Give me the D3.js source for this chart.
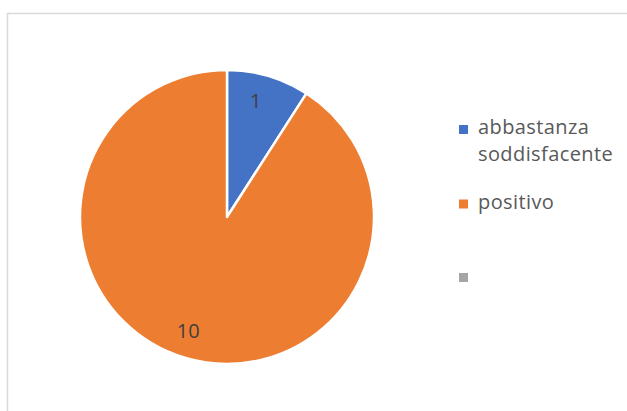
<!DOCTYPE html>
<html>
<head>
<meta charset="utf-8">
<script src="https://cdn.jsdelivr.net/npm/d3@7"></script>
<style>
  html, body { margin: 0; padding: 0; background: #fff; }
  svg { display: block; }
  text { font-family: "Open Sans", sans-serif; }
</style>
</head>
<body>
<svg id="chart" width="627" height="411"></svg>
<script>
// Survey answers
const categories = ["abbastanza soddisfacente", "positivo", ""];
const values = [1, 10, 0];
const colors = ["#4472C4", "#ED7D31", "#A5A5A5"];

const svg = d3.select("#chart");
const W = 627, H = 411;

// chart frame
svg.append("rect")
  .attr("x", 7.5).attr("y", 13.5)
  .attr("width", W).attr("height", H)
  .attr("fill", "#fff")
  .attr("stroke", "#d9d9d9")
  .attr("stroke-width", 1.5);

const cx = 227, cy = 217, r = 147;
const data = categories.map((c, i) => ({ cat: c, value: values[i], color: colors[i] }));

const pie = d3.pie().value(d => d.value).sort(null);
const arcs = pie(data);
const arc = d3.arc().innerRadius(0).outerRadius(r);
const labelArc = d3.arc().innerRadius(120).outerRadius(120);

const g = svg.append("g").attr("transform", `translate(${cx},${cy})`);

g.selectAll("path.slice")
  .data(arcs.filter(d => d.data.value > 0))
  .join("path")
  .attr("class", "slice")
  .attr("d", arc)
  .attr("fill", d => d.data.color)
  .attr("stroke", "#fff")
  .attr("stroke-width", 2.5)
  .attr("stroke-linejoin", "round");

g.selectAll("text.lbl")
  .data(arcs.filter(d => d.data.value > 0))
  .join("text")
  .attr("class", "lbl")
  .attr("transform", d => {
    const [x, y] = labelArc.centroid(d);
    return `translate(${x - 5},${y - 1})`;
  })
  .attr("text-anchor", "middle")
  .attr("dy", "0.36em")
  .attr("font-size", 20)
  .attr("fill", "#404040")
  .text(d => d.data.value);

// legend
const legend = svg.append("g").attr("transform", "translate(459,0)");
const legendBase = [134, 208.5, 282];
const lineH = 27;
data.forEach((d, i) => {
  const row = legend.append("g").attr("transform", `translate(0,${legendBase[i]})`);
  row.append("rect")
    .attr("x", 0).attr("y", -9)
    .attr("width", 9).attr("height", 9)
    .attr("fill", d.color);
  const words = d.cat === "abbastanza soddisfacente" ? ["abbastanza", "soddisfacente"] : [d.cat];
  const t = row.append("text")
    .attr("x", 19).attr("y", 0)
    .attr("font-size", 20)
    .attr("letter-spacing", 0.4)
    .attr("fill", "#595959");
  words.forEach((w, j) => {
    t.append("tspan").attr("x", 19).attr("dy", j === 0 ? 0 : lineH).text(w);
  });
});
</script>
</body>
</html>
